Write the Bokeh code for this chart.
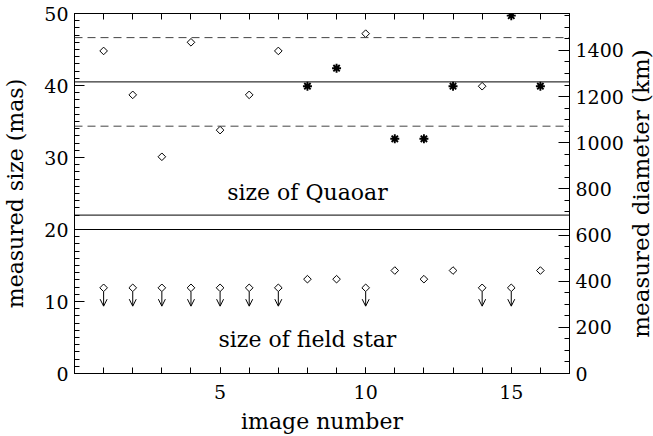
import math
from bokeh.plotting import figure
from bokeh.layouts import row
from bokeh.models import (LinearAxis, Range1d, FixedTicker, Span, Label, Arrow,
                          OpenHead, ColumnDataSource)
from bokeh.embed import file_html
from bokeh.resources import INLINE

# ---------------- data ----------------
image_number = list(range(1, 17))

# measured size of Quaoar (mas); marker type per image
quaoar_size = [44.8, 38.7, 30.1, 46.0, 33.8, 38.7, 44.8, 39.9,
               42.4, 47.2, 32.6, 32.6, 39.9, 39.9, 49.7, 39.9]
quaoar_kind = ["diamond"] * 7 + ["asterisk", "asterisk", "diamond", "asterisk",
                                 "asterisk", "asterisk", "diamond", "asterisk", "asterisk"]

# measured size of field star (mas); upper-limit flags
star_size = [11.9, 11.9, 11.9, 11.9, 11.9, 11.9, 11.9, 13.1,
             13.1, 11.9, 14.3, 13.1, 14.3, 11.9, 11.9, 14.3]
star_limit = [True] * 7 + [False, False, True, False, False, False, True, True, False]

mean_size = 40.5
sigma_size = 6.15
km_per_mas = 31.2

x_ticks = [5, 10, 15]
mas_ticks = [0, 10, 20, 30, 40, 50]
km_ticks = [0, 200, 400, 600, 800, 1000, 1200, 1400]
break_low, break_high = 20, 22

FONT = "DejaVu Serif"
H = 436
TOP, BOTTOM = 13, 63

# ---------------- main figure ----------------
p = figure(width=626, height=H, x_range=Range1d(0, 17), y_range=Range1d(0, 50),
           output_backend="svg", toolbar_location=None,
           min_border_left=74, min_border_right=54, min_border_top=TOP, min_border_bottom=BOTTOM)
p.xgrid.visible = False
p.ygrid.visible = False
p.outline_line_color = "black"
p.outline_line_width = 1
p.background_fill_color = "white"
p.border_fill_color = "white"

def style_axis(ax, tick_in, minor_in, standoff):
    ax.axis_line_color = "black"
    ax.major_tick_line_color = "black"
    ax.minor_tick_line_color = "black"
    ax.major_tick_in = tick_in
    ax.major_tick_out = 0
    ax.minor_tick_in = minor_in
    ax.minor_tick_out = 0
    ax.major_label_standoff = standoff
    ax.major_label_text_font = FONT
    ax.major_label_text_font_size = "19px"
    ax.major_label_text_color = "black"
    ax.axis_label_text_font = FONT
    ax.axis_label_text_font_size = "22px"
    ax.axis_label_text_font_style = "normal"
    ax.axis_label_text_color = "black"

# bottom axis
xb = p.xaxis[0]
xb.ticker = FixedTicker(ticks=x_ticks, minor_ticks=image_number)
style_axis(xb, 6, 6, 11)
xb.axis_label = "image number"
xb.axis_label_standoff = 7

# left axis (mas)
yl = p.yaxis[0]
yl.ticker = FixedTicker(ticks=mas_ticks,
                        minor_ticks=[v for v in range(0, 51) if not (break_low < v < break_high)])
style_axis(yl, 10, 5, 6)
yl.axis_label = "measured size (mas)"
yl.axis_label_standoff = 13

# right axis (km), ticks and numbers
p.extra_y_ranges = {"km": Range1d(0, 50 * km_per_mas)}
km_minor = [v for v in range(0, int(50 * km_per_mas) + 1, 50)
            if not (break_low * km_per_mas < v < break_high * km_per_mas)]
yr = LinearAxis(y_range_name="km", ticker=FixedTicker(ticks=km_ticks, minor_ticks=km_minor))
style_axis(yr, 11, 5, 6)
p.add_layout(yr, "right")

# top axis (ticks only)
xt = LinearAxis(ticker=FixedTicker(ticks=[], minor_ticks=image_number))
style_axis(xt, 6, 6, 0)
p.add_layout(xt, "above")

# ---------------- reference lines ----------------
p.add_layout(Span(location=mean_size, dimension="width", line_color="black", line_width=1))
for loc in (mean_size - sigma_size, mean_size + sigma_size):
    p.add_layout(Span(location=loc, dimension="width", line_color="#444444",
                      line_width=1, line_dash="8 5"))
for loc in (break_low, break_high):
    p.add_layout(Span(location=loc, dimension="width", line_color="black", line_width=1))

# ---------------- Quaoar points ----------------
dia_x = [x for x, k in zip(image_number, quaoar_kind) if k == "diamond"]
dia_y = [y for y, k in zip(quaoar_size, quaoar_kind) if k == "diamond"]
ast_x = [x for x, k in zip(image_number, quaoar_kind) if k == "asterisk"]
ast_y = [y for y, k in zip(quaoar_size, quaoar_kind) if k == "asterisk"]

p.scatter(dia_x, dia_y, marker="square", angle=math.pi / 4, size=5.4,
          fill_color=None, line_color="black", line_width=1)
p.scatter(ast_x, ast_y, marker="asterisk", size=9, line_color="black", line_width=1.9)

# ---------------- field star points ----------------
p.scatter(image_number, star_size, marker="square", angle=math.pi / 4, size=5.4,
          fill_color=None, line_color="black", line_width=1)

lim_x = [x for x, f in zip(image_number, star_limit) if f]
lim_y = [y for y, f in zip(star_size, star_limit) if f]
arrow_src = ColumnDataSource(dict(x=lim_x,
                                  y0=[y - 0.55 for y in lim_y],
                                  y1=[y - 2.55 for y in lim_y]))
p.add_layout(Arrow(end=OpenHead(size=7, line_color="black", line_width=1),
                   source=arrow_src, x_start="x", y_start="y0", x_end="x", y_end="y1",
                   line_color="black", line_width=1))

# ---------------- labels ----------------
p.add_layout(Label(x=8, y=25.1, text="size of Quaoar", text_align="center",
                   text_baseline="alphabetic", text_font=FONT, text_font_size="22px",
                   text_color="black"))
p.add_layout(Label(x=8, y=4.66, text="size of field star", text_align="center",
                   text_baseline="alphabetic", text_font=FONT, text_font_size="22px",
                   text_color="black"))

# ---------------- narrow strip carrying the right-hand axis title ----------------
p2 = figure(width=27, height=H, x_range=Range1d(0, 1), y_range=Range1d(0, 50),
            output_backend="svg", toolbar_location=None, x_axis_location=None,
            min_border_left=26, min_border_right=0, min_border_top=TOP, min_border_bottom=BOTTOM)
p2.xgrid.visible = False
p2.ygrid.visible = False
p2.outline_line_color = None
p2.background_fill_color = "white"
p2.border_fill_color = "white"
ya = p2.yaxis[0]
ya.ticker = FixedTicker(ticks=[], minor_ticks=[])
ya.axis_line_color = None
ya.major_tick_line_color = None
ya.minor_tick_line_color = None
ya.major_tick_out = 0
ya.major_tick_in = 0
ya.major_label_standoff = 0
ya.axis_label = "measured diameter (km)"
ya.axis_label_standoff = 0
ya.axis_label_text_font = FONT
ya.axis_label_text_font_size = "23px"
ya.axis_label_text_font_style = "normal"
ya.axis_label_text_color = "black"

layout = row(p, p2)
open("out.html", "w").write(file_html(layout, INLINE))
